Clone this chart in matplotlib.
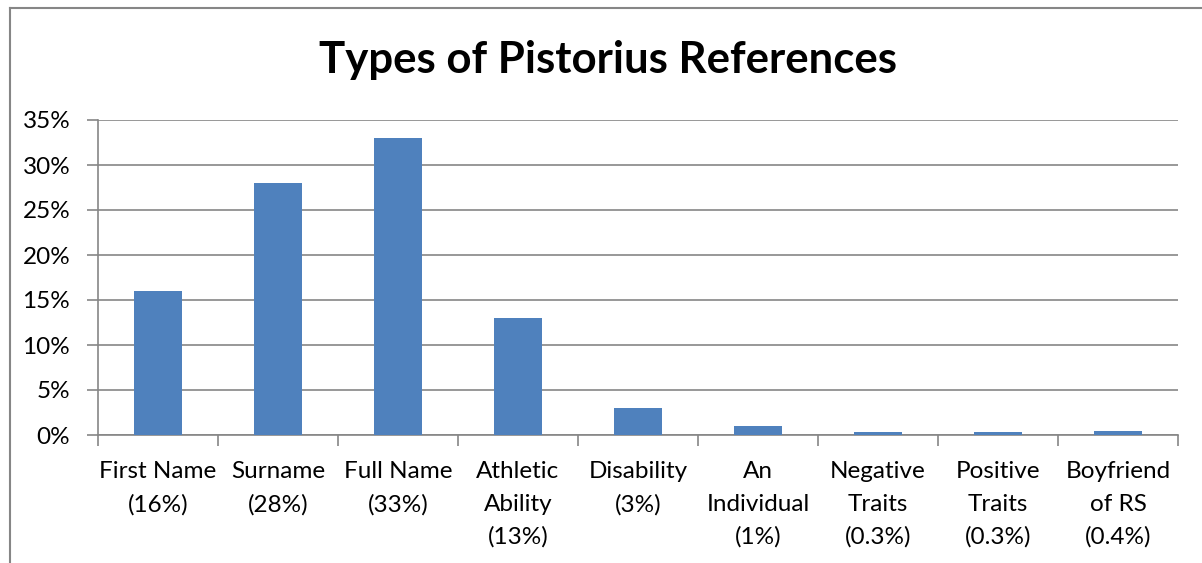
import matplotlib
matplotlib.use("Agg")
import matplotlib.pyplot as plt
from matplotlib.lines import Line2D

categories = ["First Name\n(16%)", "Surname\n(28%)", "Full Name\n(33%)",
              "Athletic\nAbility\n(13%)", "Disability\n(3%)", "An\nIndividual\n(1%)",
              "Negative\nTraits\n(0.3%)", "Positive\nTraits\n(0.3%)", "Boyfriend\nof RS\n(0.4%)"]
values = [16, 28, 33, 13, 3, 1, 0.3, 0.3, 0.4]
yticks = [0, 5, 10, 15, 20, 25, 30, 35]
ytick_labels = ["0%", "5%", "10%", "15%", "20%", "25%", "30%", "35%"]

plt.rcParams['font.family'] = ['Lato', 'DejaVu Sans']

W, H = 1202, 563
fig = plt.figure(figsize=(W/100, H/100), dpi=100)
ax = fig.add_axes([98/W, 1-435/H, (1178-98)/W, (435-120)/H])

gray = "#868686"
x = list(range(len(values)))
ax.bar(x, values, width=0.4, color="#4F81BD", zorder=3)
ax.set_xlim(-0.5, len(values)-0.5)
ax.set_ylim(0, 35)
ax.set_yticks(yticks)
ax.set_yticklabels(ytick_labels, fontsize=17.5)
ax.yaxis.grid(True, color=gray, linewidth=1.2, zorder=0)
ax.set_xticks([i - 0.5 for i in range(len(values)+1)])
ax.set_xticklabels([])
ax.set_xticks(x, minor=True)
ax.set_xticklabels(categories, minor=True, fontsize=17.5, linespacing=1.66, va="top")
ax.tick_params(axis='x', which='minor', length=0, pad=19)
ax.tick_params(axis='x', which='major', length=8, width=1.2, color=gray, direction='out')
ax.tick_params(axis='y', length=8, width=1.2, color=gray, direction='out', pad=12)
for s in ["top", "right"]:
    ax.spines[s].set_visible(False)
for s in ["left", "bottom"]:
    ax.spines[s].set_color(gray)
    ax.spines[s].set_linewidth(1.2)

fig.text(608/W, 1-60/H, "Types of Pistorius References", ha="center", va="center",
         fontsize=31.5, fontweight="bold")

# outer chart border (top and left visible)
fig.add_artist(Line2D([10/W, 1], [1-8/H, 1-8/H], color=gray, linewidth=1.5, transform=fig.transFigure))
fig.add_artist(Line2D([10/W, 10/W], [1-8/H, 0], color=gray, linewidth=1.5, transform=fig.transFigure))

fig.savefig("out.png", dpi=100)
